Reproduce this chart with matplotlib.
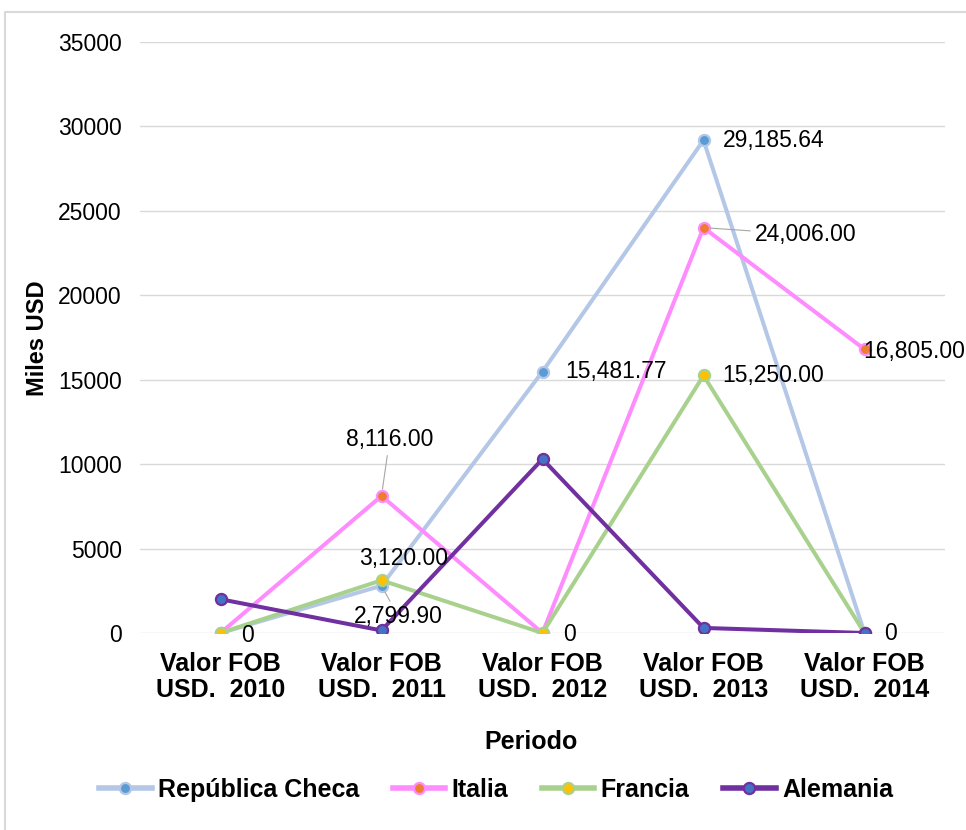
import matplotlib
matplotlib.use("Agg")
import matplotlib.pyplot as plt
from matplotlib.lines import Line2D

plt.rcParams['font.family'] = ['Liberation Sans', 'DejaVu Sans']

# ---- data ----
categories = ["Valor FOB\nUSD.  2010", "Valor FOB\nUSD.  2011", "Valor FOB\nUSD.  2012",
              "Valor FOB\nUSD.  2013", "Valor FOB\nUSD.  2014"]
rep_checa = [0, 2799.90, 15481.77, 29185.64, 0]
italia = [0, 8116.00, 0, 24006.00, 16805.00]
francia = [0, 3120.00, 0, 15250.00, 0]
alemania = [2000, 150, 10300, 300, 0]
yticks = [0, 5000, 10000, 15000, 20000, 25000, 30000, 35000]

series = [
    ("República Checa", rep_checa, "#B4C7E7", "#5B9BD5"),
    ("Italia", italia, "#FF8CFF", "#ED7D31"),
    ("Francia", francia, "#A9D18E", "#FFC000"),
    ("Alemania", alemania, "#7030A0", "#4472C4"),
]

W, H = 966, 830
fig = plt.figure(figsize=(W / 100, H / 100), dpi=100)
ax = fig.add_axes([140 / W, 1 - 633 / H, 805 / W, (633 - 42) / H])

x = list(range(len(categories)))
for name, vals, lc, mc in series:
    ax.plot(x, vals, color=lc, lw=2.9, marker="o", markersize=8,
            markerfacecolor=mc, markeredgecolor=lc, markeredgewidth=1.6,
            label=name, solid_joinstyle="round", zorder=3)

ax.set_xlim(-0.5, len(categories) - 0.5)
ax.set_ylim(0, 35000)
ax.set_yticks(yticks)
ax.set_yticklabels([str(v) for v in yticks])
ax.set_xticks(x)
ax.set_xticklabels(categories, fontsize=18, fontweight="bold", linespacing=1.08)
ax.tick_params(axis="y", length=0, pad=13, labelsize=16.5)
ax.tick_params(axis="x", length=0, pad=14)
ax.grid(axis="y", color="#D9D9D9", lw=1.0)
ax.set_axisbelow(True)
for s in ax.spines.values():
    s.set_visible(False)

# ---- data labels ----
leader = dict(arrowstyle="-", color="#A6A6A6", lw=0.8, shrinkA=1, shrinkB=5)
labels = [
    # (values, index, text, offset px, ha, leader line)
    (rep_checa, 1, "2,799.90", (17, -31), "center", True),
    (rep_checa, 2, "15,481.77", (23, 0), "left", False),
    (rep_checa, 3, "29,185.64", (19, 0), "left", False),
    (rep_checa, 4, "0", (20, 0), "left", False),
    (italia, 1, "8,116.00", (8, 56), "center", True),
    (italia, 3, "24,006.00", (51, -7), "left", True),
    (italia, 4, "16,805.00", (-1, -2), "left", False),
    (francia, 0, "0", (21, -2), "left", False),
    (francia, 1, "3,120.00", (22, 22), "center", False),
    (francia, 2, "0", (21, -1), "left", False),
    (francia, 3, "15,250.00", (19, 0), "left", False),
]
for vals, i, txt, off, ha, line in labels:
    ax.annotate(txt, xy=(i, vals[i]), xytext=off, textcoords="offset pixels",
                ha=ha, va="center", fontsize=16.5, color="#000000", zorder=6,
                arrowprops=leader if line else None)

# ---- titles ----
fig.text(38 / W, 1 - 338 / H, "Miles USD", rotation=90, ha="center", va="center",
         fontsize=17, fontweight="bold")
fig.text(531 / W, 1 - 742 / H, "Periodo", ha="center", va="center",
         fontsize=18, fontweight="bold")

# ---- legend ----
handles = [Line2D([], [], color=lc, lw=4, marker="o", markersize=8,
                  markerfacecolor=mc, markeredgecolor=lc, markeredgewidth=1.6)
           for _, _, lc, mc in series]
fig.legend(handles, [s[0] for s in series], loc="center", ncol=4,
           bbox_to_anchor=(496 / W, 1 - 790 / H), frameon=False,
           prop=dict(size=18, weight="bold"), handlelength=2.1,
           handletextpad=0.25, columnspacing=1.35)

# ---- chart frame ----
fig.add_artist(Line2D([5 / W, 5 / W, 1.0], [0.0, 1 - 12 / H, 1 - 12 / H],
                      transform=fig.transFigure, color="#D9D9D9", lw=1.5))

fig.savefig("out.png", dpi=100)
